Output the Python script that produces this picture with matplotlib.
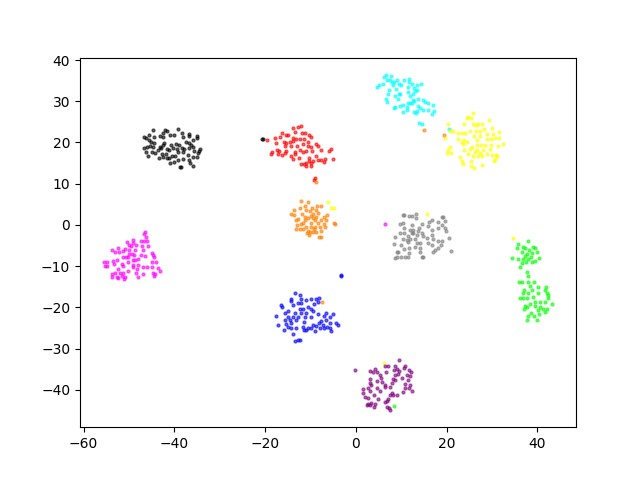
import matplotlib
matplotlib.use('Agg')
import matplotlib.pyplot as plt

# t-SNE style clusters
black_pts = [(-44.7,23.1),(-42.1,23.1),(-41.6,22.9),(-39.1,23.3),(-38.4,22.3),(-42.5,22.2),(-43.2,21.5),(-42.6,21.3),
    (-41,21.7),(-40,21.7),(-38,21.4),(-36.7,22.1),(-36.8,21.5),(-35.1,21.5),(-35.1,21.1),(-36,20.7),(-46.6,21.3),
    (-46.3,21.1),(-45.5,21.8),(-44.5,21.4),(-45.5,20.5),(-45.2,20),(-44.5,19.9),(-42.3,19.9),(-42.6,19.5),(-40.8,19.5),
    (-39.7,19.6),(-38.9,19.5),(-37.5,20.1),(-36.7,19.9),(-36.4,19.3),(-46.7,18.7),(-46,18.8),(-45.4,19.1),(-44.7,18.9),
    (-45.8,16.8),(-46.3,17.6),(-45,17.7),(-44.3,17.5),(-43.6,18.1),(-43,18.7),(-41.7,18.4),(-41.1,18.1),(-40.2,18.7),
    (-39.4,18.4),(-38.4,18.7),(-37.8,18.3),(-36.7,18.7),(-35.8,18.8),(-35.6,17.9),(-34.5,17.9),(-34.3,18.4),(-34.7,17.5),
    (-38,17.6),(-39.1,17.6),(-40.5,16.6),(-39.9,16.6),(-41.9,17.1),(-42.7,17.1),(-43.3,16.2),(-42.4,16.4),(-41.6,16.2),
    (-41,15),(-40,15.3),(-39.1,15.7),(-38.8,14),(-38.6,14),(-37,16.9),(-36,16.4),(-35,16.4),(-36.7,15.8),(-36.6,15),
    (-35.8,14.2),(-38.2,16.1),(-41.1,16.2),(-43.2,18.9),(-20.6,20.8),(-20.4,20.8)]

red_pts = [(-19.5,20.6),(-13.8,23.5),(-12.2,24.1),(-12.7,23.7),(-13.4,22.6),(-11.8,22.3),(-11.3,22.3),(-10.3,21.9),
    (-10,21.4),(-16.2,22.3),(-15.4,21.7),(-14.9,21.7),(-17.8,21.1),(-16.7,21.4),(-13.8,21.1),(-13.1,20.9),(-12.3,20.9),
    (-11.4,20.9),(-13.8,20.3),(-15.9,20.1),(-15.3,19.9),(-14.5,20.1),(-17.5,19.9),(-10.5,20.1),(-11.6,19.6),(-12.9,19.2),
    (-14.4,19.2),(-15.6,19.2),(-8.9,19.6),(-8.3,19.1),(-10.5,19.1),(-9.8,18.9),(-7.7,18.2),(-5.4,18.3),(-6,17.9),
    (-17.3,18.1),(-16.9,17.9),(-15.4,17.9),(-13.4,17.6),(-12.3,18.1),(-11.6,17.7),(-10.9,17.9),(-9.6,17.9),(-18.4,17.6),
    (-18.8,17.3),(-17.1,17.1),(-16.2,16.9),(-15.6,17.5),(-14.2,16.6),(-13.4,17.1),(-13.8,16),(-12.5,16.2),(-10.3,16.2),
    (-8.8,16.6),(-8.4,15.7),(-7.6,15.8),(-6.8,16),(-5,15.9),(-7.1,15.2),(-9.4,15.4),(-10.3,15.4),(-10.9,15),(-12,14.8),
    (-11.4,14.8),(-11,14.2),(-9.9,14.4),(-9.8,15),(-9.1,11.4),(-9.3,11)]

orange_pts = [(-12,5.9),(-10.5,5.5),(-13.7,3.7),(-12.4,4.1),(-11.2,4.5),(-9.6,4.2),(-8.5,4.7),(-7.6,4.5),(-11,3.7),
    (-8.7,3.7),(-14.2,2.6),(-13.6,2.5),(-11.8,2.6),(-10.1,3.3),(-9.4,2.7),(-8.3,2.9),(-6.3,2.4),(-7.1,2),(-12.7,1.5),
    (-13.2,1.2),(-11.2,2),(-10.5,1.6),(-9.4,1.6),(-8.7,1.9),(-7.8,1.2),(-6.6,1.2),(-11.6,.4),(-12.1,.2),(-13,0),(-9.8,.4),
    (-8.3,.4),(-7.1,.3),(-4.9,.4),(-4.5,.2),(-11.1,-.5),(-10,-.4),(-9,-.5),(-7.9,-.4),(-6.8,-.4),(-13.3,-.9),(-12.3,-1),
    (-11.6,-1),(-10.5,-1.4),(-9.5,-1.8),(-8.7,-1.7),(-7.8,-1.6),(-10.7,-2),(-10.1,-1.8),(-10.4,-2.4),(-8.1,-3),(-7.6,-3),
    (-9.2,-1),(-11.2,1.2),(-9.8,2.2),(-9,1.1),(-8.7,10.4),(15,23),(19.5,21.7),(-7.4,-18.8)]

cyan_pts = [(6.6,36.4),(7.8,36.1),(6.2,35.9),(6.9,35.2),(7.5,35.1),(8,34.6),(9.1,35.2),(10.6,35.2),(11.7,35.4),(11.6,34.6),
    (12.3,34.3),(13.4,34),(14.4,34.2),(5.1,34),(4.7,33.4),(6,34.2),(8.2,34),(9.5,34.2),(10,33.9),(11.4,33.4),(12.8,33.2),
    (13.5,32.8),(13.1,32.6),(8.8,33),(7.3,32.7),(11.5,32.2),(12.6,31.7),(7.1,31.7),(8.6,31.3),(9.5,31.8),(9.8,31.8),
    (12,31.3),(6.7,30.6),(9.2,30.6),(6.9,29.8),(13.7,30.5),(14.8,30.3),(12.8,30),(12.3,29.7),(11.5,29.5),(15.3,29.8),
    (15.9,29.5),(17,29.2),(10.3,29.2),(9.8,28.8),(8.7,28.5),(8.4,28.4),(11.3,28.5),(11.2,28),(13.7,28.8),(14.1,28.3),
    (14.7,27.9),(13.5,27.7),(15.9,27.9),(17.2,27.7),(10.4,27.4),(12.9,27.4),(13.2,27.1),(16.7,26.9),(14,24.7),(14.5,24.5),
    (20.5,23.2),(11.9,29.5),(12.6,30.2),(8.4,34.6)]

yellow_pts = [(25.8,27.1),(24.7,26.3),(25.3,25.9),(24.5,25.9),(29.4,25.5),(23.9,24.4),(25.8,24.4),(26.4,24.3),(27,24.4),
    (27.8,24.4),(20.3,24.4),(29.9,23.6),(20.7,22.9),(21.3,22.7),(22.4,22.3),(23.3,22.3),(24,22.4),(25.1,22.9),(26.4,22.9),
    (27.3,22.7),(28.3,23.2),(31.6,22.5),(30.1,22.1),(28.9,22.1),(26.1,21.6),(27.3,21.6),(19.7,21),(22.5,20.8),(23.8,20.6),
    (23.3,20.2),(26.7,20.6),(28.9,20.8),(29.7,20.8),(31.5,21),(30.6,21),(24.4,20),(23.5,19.7),(26.7,19.4),(27.5,19.4),
    (28.4,19.4),(29.7,19.3),(32.4,19.6),(20.7,19),(31.3,19.2),(25.5,19),(23.9,18.2),(26.6,18.2),(25.1,18.4),(28,18.2),
    (29.5,18.4),(20.3,18.2),(20,17.4),(20.9,17.4),(24.6,17.2),(26.2,17.6),(27.3,17.4),(28.9,17.2),(29.9,17),(30.8,17),
    (31.1,16.6),(22.9,16.4),(25.8,16.7),(27,16.6),(27.7,16.7),(30.6,15.9),(23.4,15.4),(25.3,15.4),(23.6,14.8),(25.3,14.3),
    (26.1,13.7),(27.8,14.5),(30.4,15.6),(-6.1,5.6),(-5.5,4.1),(-4.9,4.1),(15.7,2.6),(34.7,-3.2),(6.2,-33.4)]

gray_pts = [(10.4,2.4),(10.5,2.4),(11.7,2.2),(12.3,2.2),(13.2,2.6),(13.2,1.6),(19,1.9),(19.1,1.9),(19.6,1),(18.1,.8),(16.1,.8),
    (16.8,1.2),(15.9,-.2),(10.3,.4),(9.8,.2),(14.5,.2),(12.4,0),(10.6,-.8),(18.9,0),(18.1,-.7),(19.6,-.8),(19.8,-1.6),
    (9.7,-2),(10.6,-2),(11.9,-1.2),(12.5,-1.2),(13.9,-.8),(14.5,-2),(13.7,-1.6),(11.5,-2.8),(12.3,-2),(8.7,-3),(10.4,-3.5),
    (11.9,-3.5),(13.1,-3.5),(14.8,-2.7),(15.6,-3.2),(16.7,-1.2),(16.7,-2.4),(17,-3.5),(18.1,-3.8),(18.9,-3.8),(20.6,-3.2),
    (8.4,-4.6),(10,-4.9),(11.5,-4.2),(13.4,-4.5),(14.2,-4.5),(15.9,-4.5),(16.7,-4.9),(18.7,-4.9),(10.6,-5.9),(11.7,-5.7),
    (13,-5.4),(14.1,-5.7),(18.1,-5.7),(17.4,-6.1),(9,-6.5),(9.2,-6.6),(11.7,-6.9),(14.1,-6.7),(16.9,-6.7),(21,-6.4),
    (9.1,-7.7),(8.6,-8.1),(10,-7.7),(10.8,-7.9),(11.5,-7.9),(14.6,-7.7),(14.7,-7.7),(12.6,-2),(13.4,-2.4),(11.3,-3.7)]

magenta_pts = [(-46.4,-1.8),(-46.8,-2.3),(-46.2,-3),(-49.1,-3.7),(-50.5,-4.2),(-47.4,-4),(-46.7,-3.8),(-46,-4),(-50.1,-4.8),
    (-49.1,-4.3),(-48.5,-5),(-47.2,-5.1),(-45.8,-5.2),(-49.6,-5.2),(-53.8,-6.1),(-52.4,-5.7),(-50.8,-5.9),(-53,-6.6),
    (-52.2,-6.7),(-51.3,-6.4),(-50,-6.2),(-48.7,-6.1),(-46.9,-6.2),(-45,-6.9),(-44.7,-7.4),(-44.5,-7.8),(-51.4,-7.9),
    (-50.7,-7.8),(-50.2,-7.7),(-49.4,-7),(-50,-7),(-48.8,-7.4),(-47.4,-7.4),(-46.5,-7.6),(-48,-8.3),(-48.7,-8.5),(-49.2,-8.5),
    (-50.2,-8.9),(-52.7,-8.5),(-53.6,-8.7),(-55.5,-8.9),(-54.9,-9.1),(-54.8,-10),(-55.3,-10),(-53.2,-9.5),(-51.6,-9.5),
    (-51.3,-10),(-49.2,-9.7),(-48,-9.7),(-44.9,-9.1),(-44,-9.1),(-46.9,-10.3),(-46,-10.3),(-44.9,-10.3),(-43.6,-10.5),
    (-43.1,-11.3),(-52.4,-10.7),(-48.2,-10.8),(-49.2,-10.3),(-50.2,-11.3),(-51.3,-11.7),(-52,-11.7),(-53,-11.7),(-53.8,-12),
    (-53.8,-12.6),(-52.7,-12.6),(-52.4,-13),(-51.6,-12.3),(-51,-13.2),(-50.8,-12.6),(-48,-12.7),(-47,-12),(-44.8,-11.6),
    (-44.3,-12),(-44.4,-12.4),(-48.5,-11.6),(6.4,0.1)]

green_pts = [(37.9,-3.8),(35.7,-4.7),(36.8,-5.3),(39,-5.3),(35.4,-5.7),(37.2,-5.7),(39.4,-5.7),(36.5,-6.5),(38.2,-6.2),
    (39.8,-6.7),(38.7,-6.9),(37.7,-7),(37.2,-7.5),(38.5,-7.7),(34.3,-8),(35.7,-8.4),(36.8,-8.4),(37.9,-8.4),(40.4,-8.1),
    (39.4,-8.7),(38.9,-8.9),(37.4,-8.9),(36.5,-9.3),(36.1,-10.3),(37.6,-11.4),(37.9,-12.3),(36,-13.8),(36.6,-13.8),
    (37.9,-13.8),(39.3,-13.8),(38.3,-14.8),(40.1,-15),(41.8,-15),(37,-15.7),(38.7,-15.7),(41.6,-15.8),(42,-16.5),(36.8,-16.6),
    (37.9,-16.6),(40.1,-16.6),(42.3,-17),(36.1,-17.8),(36.8,-17.8),(37.6,-17.8),(39,-17.4),(42.3,-17.8),(39.4,-18.7),
    (40.5,-18.8),(41.6,-18.7),(43.2,-19.2),(38.3,-19.2),(37.6,-19.9),(37,-20.3),(39.4,-19.7),(40.5,-19.9),(41.2,-20.5),
    (42,-20.5),(40.1,-20.7),(38.5,-21.3),(37.9,-22.1),(39.3,-22.1),(40.4,-21.6),(37.8,-23),(40,-23),(41.6,-21.1),(37.2,-19.7),
    (8.4,-44)]

blue_pts = [(-3.2,-12.2),(-3.2,-12.3),(-13.4,-16.6),(-12.3,-17),(-14.4,-18.1),(-14.2,-18.5),(-12,-18.1),(-10.9,-18.2),
    (-9.9,-18),(-8.7,-18.1),(-8.1,-17.8),(-8.3,-18.8),(-9.2,-19.3),(-12.8,-19),(-12,-19),(-13.8,-19.5),(-16.4,-19.5),
    (-16.2,-20),(-10.5,-20),(-9.8,-20.3),(-12.3,-20.5),(-11.6,-20.4),(-14.9,-20.9),(-15.6,-21.5),(-17.5,-22),(-13.4,-21.3),
    (-12.1,-21.5),(-10.9,-21.5),(-9.4,-21),(-8.4,-21.7),(-5,-21.7),(-6.5,-21.5),(-7,-22),(-14.9,-22.3),(-13.8,-22.3),
    (-12.7,-22.3),(-11.2,-22.3),(-9.8,-22.3),(-5.7,-22.3),(-15.6,-23.1),(-14.5,-23.1),(-13.1,-23.1),(-11.4,-23.5),(-6.6,-23.1),
    (-7.6,-23.4),(-8.2,-23.7),(-17.1,-24.2),(-15.4,-24.1),(-14.2,-23.7),(-9.5,-24.2),(-8.7,-24.5),(-7.2,-24.2),(-5.7,-23.9),
    (-4.4,-23.9),(-4,-24.2),(-14.9,-24.9),(-14.3,-25),(-13.1,-25),(-11.6,-24.7),(-10.6,-25),(-9.8,-25.1),(-7.9,-25),(-7,-25),
    (-6.3,-24.7),(-5.7,-25.1),(-15.8,-25.5),(-11.4,-25.4),(-11.1,-25.5),(-9,-25.7),(-5.4,-25.7),(-13.8,-26.6),(-12.8,-28),
    (-12.3,-28),(-13.4,-28.2)]

purple_pts = [(-.1,-35.3),(9.5,-32.8),(6.4,-34.3),(7,-34.3),(8.6,-34.2),(10.8,-34.3),(9,-35),(8.4,-35.3),(10.6,-34.7),(9.5,-35.4),
    (11.7,-35.3),(12.1,-35.7),(3.1,-35.5),(4.2,-34.9),(3.7,-35.7),(4.6,-35.8),(6.6,-35.7),(5.4,-36.5),(8.6,-36.5),(9.2,-36.3),
    (11.2,-36.5),(11.9,-36.7),(3.1,-37.3),(5.6,-37.1),(8.2,-37.3),(10.2,-37.1),(11.5,-37.7),(4.7,-38),(5.8,-38.1),(6.5,-38.8),
    (3.1,-38.4),(3.3,-38.9),(7.9,-38.3),(8.6,-37.7),(10.8,-38.5),(11.9,-38.8),(7.6,-39.3),(6.5,-39.3),(1.6,-39.9),(2.7,-39.7),
    (4.6,-39.7),(10.8,-39.7),(11.7,-39.7),(1.6,-40.7),(3.1,-40.4),(5.3,-40.4),(8,-40.7),(10.4,-40.5),(12.3,-40.4),(2,-41.8),
    (2.7,-42),(4,-41.4),(7.5,-41.2),(9,-41.2),(4.9,-42.3),(7.1,-42.2),(6.8,-42.8),(2.7,-43.4),(3.1,-43.8),(4.2,-43.4),(6.4,-43),
    (2.4,-43.6),(4,-44.2),(6.8,-44.2),(7.3,-44.4),(7.5,-45),(3.3,-43.2),(8.2,-41.2)]

clusters = [black_pts, red_pts, orange_pts, cyan_pts, yellow_pts, gray_pts,
            magenta_pts, green_pts, blue_pts, purple_pts]
colors = ['black', 'red', '#ff7f00', 'cyan', 'yellow', 'gray',
          'magenta', 'lime', 'blue', 'purple']

fig, ax = plt.subplots()
for pts, c in zip(clusters, colors):
    xs = [p[0] for p in pts]
    ys = [p[1] for p in pts]
    ax.scatter(xs, ys, c=c, s=5, linewidths=0.8, alpha=0.6)

ax.set_xlim(-60.8, 48.5)
ax.set_ylim(-49.1, 40.6)
fig.savefig('out.png', dpi=100)
